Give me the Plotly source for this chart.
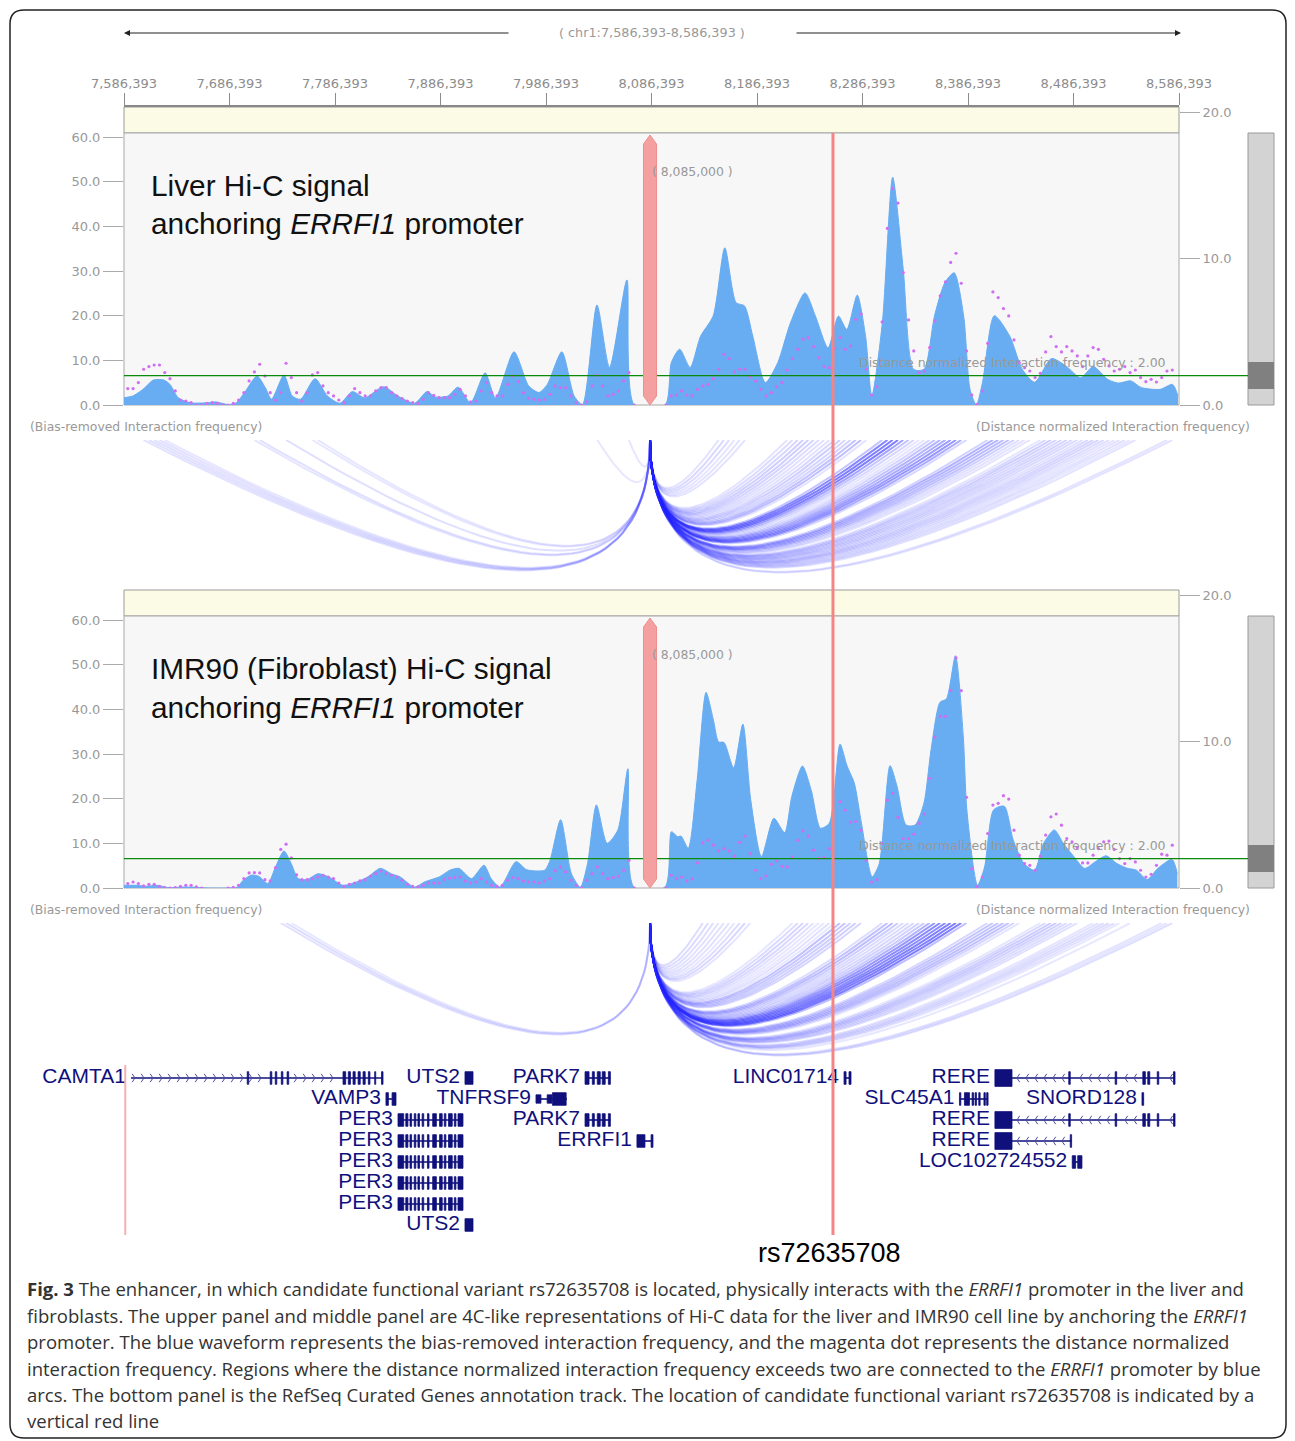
import numpy as np
import plotly.graph_objects as go

W, H = 1295, 1441
OFF = 8  # page body margin applied by the browser
def X(px): return (px - OFF) / W
def Y(py): return 1 - (py - OFF) / H

# ---------------- data ----------------
REGION = "chr1:7,586,393-8,586,393"
START, END = 7586393, 8586393
ANCHOR = 8085000
SNP_POS = 8258400
SNP_NAME = "rs72635708"
DN_THRESHOLD = 2.0

genome_ticks = [7586393, 7686393, 7786393, 7886393, 7986393, 8086393,
                8186393, 8286393, 8386393, 8486393, 8586393]
left_ticks = [0, 10, 20, 30, 40, 50, 60]
right_ticks = [0, 10, 20]

# 5 kb bins used for the distance-normalized interaction frequency
dn_bins = list(range(7585000, 8070001, 5000)) + list(range(8100000, 8580001, 5000))

# Liver: bias-removed interaction frequency (waveform)
liver_wave_pos = [7585000, 7594600, 7604400, 7614300, 7624100, 7630000, 7637900, 7649600, 7665400, 7673200,
                  7685000, 7692800, 7700700, 7712500, 7720300, 7726300, 7738000, 7745900, 7753800, 7767500,
                  7779300, 7791100, 7802900, 7814600, 7832400, 7846100, 7861900, 7873600, 7881500, 7893300,
                  7903100, 7914900, 7928700, 7938500, 7956100, 7969900, 7979800, 7987600, 8001400, 8013100,
                  8021000, 8034700, 8046600, 8063100, 8070100,
                  8099300, 8105200, 8113100, 8123000, 8132900, 8144800, 8155900, 8166600, 8174500, 8182400,
                  8194300, 8206100, 8218100, 8231900, 8241800, 8253700, 8263600, 8271500, 8281400, 8289300,
                  8295200, 8305200, 8315000, 8325000, 8334800, 8344700, 8354600, 8364500, 8373300, 8382300,
                  8388300, 8394300, 8400100, 8411300, 8426000, 8437800, 8449700, 8465500, 8479400, 8493200,
                  8505100, 8519000, 8528900, 8540700, 8550700, 8568500, 8580300, 8585400]
liver_wave_val = [1.6, 2.0, 3.5, 5.6, 5.6, 4.6, 1.6, 0.5, 0.5, 0.7,
                  0.1, 0.5, 2.8, 6.5, 3.9, 1.3, 6.7, 2.0, 1.3, 5.9,
                  2.0, 0.4, 3.0, 1.6, 4.1, 2.0, 0.4, 3.0, 1.8, 2.0,
                  4.0, 0.5, 7.2, 1.6, 11.9, 4.3, 2.8, 4.6, 11.9, 2.0,
                  0.1, 22.4, 8.4, 28.0, 0.0,
                  0.0, 9.5, 12.5, 8.4, 15.4, 19.9, 35.2, 22.9, 22.2, 15.4,
                  5.0, 9.5, 18.4, 25.1, 19.9, 12.8, 19.9, 16.9, 24.6, 15.4,
                  2.0, 18.4, 51.0, 30.4, 8.0, 8.0, 19.9, 27.4, 29.6, 19.9,
                  3.5, 0.0, 5.0, 20.0, 15.4, 8.0, 5.1, 10.4, 8.7, 6.1,
                  8.6, 5.7, 4.9, 5.4, 3.9, 3.5, 4.6, 2.0]

# Liver: distance normalized interaction frequency (dots), one per bin
liver_dn_val = [0.00, 1.12, 1.12, 1.53, 2.44, 2.62, 2.73, 2.73, 2.21, 1.80,
                0.96, 0.34, 0.27, 0.16, 0.00, 0.00, 0.11, 0.16, 0.11, 0.00,
                0.00, 0.11, 0.34, 0.84, 1.64, 2.26, 2.78, 1.98, 0.84, 0.34,
                0.84, 2.85, 1.87, 0.84, 0.27, 0.84, 2.05, 2.21, 1.30, 0.84,
                0.62, 0.34, 0.16, 0.62, 1.12, 0.84, 0.62, 0.62, 0.96, 1.18,
                1.18, 0.84, 0.62, 0.43, 0.27, 0.16, 0.11, 0.39, 0.84, 0.66,
                0.50, 0.50, 0.50, 0.73, 1.07, 0.62, 0.21, 0.27, 0.96, 1.53,
                0.84, 0.62, 0.62, 1.41, 1.98, 1.59, 0.84, 0.46, 0.39, 0.34,
                0.39, 0.73, 1.30, 1.18, 1.18, 0.62, 0.16, 0.00, 0.21, 1.30,
                2.03, 1.30, 0.62, 0.73, 0.96, 1.64, 2.21, 0.00,
                0.00, 0.62, 0.68, 0.96, 0.68, 0.62, 1.07, 1.30, 1.41, 1.80,
                2.44, 3.46, 3.17, 2.26, 2.44, 2.44, 1.94, 1.64, 1.07, 0.62,
                0.84, 1.25, 1.53, 2.39, 3.17, 3.80, 4.49, 4.60, 3.99, 3.23,
                2.62, 2.55, 3.85, 4.60, 3.80, 4.03, 5.85, 6.20, 2.44, 0.68,
                1.25, 5.67, 12.05, 14.78, 13.78, 9.04, 5.81, 3.69, 2.21, 2.32,
                3.92, 5.74, 7.45, 8.41, 9.73, 10.36, 8.31, 3.69, 0.68, 0.05,
                0.96, 4.21, 7.72, 7.33, 6.58, 6.08, 4.44, 2.89, 2.55, 2.32,
                1.87, 2.16, 3.62, 4.67, 3.99, 3.62, 3.99, 3.69, 3.35, 2.62,
                3.35, 3.92, 3.80, 3.12, 2.67, 2.32, 2.44, 2.62, 2.21, 2.39,
                1.87, 1.59, 1.75, 1.57, 1.87, 2.32, 2.39]

# IMR90: bias-removed interaction frequency (waveform)
imr90_wave_pos = [7585600, 7597500, 7607600, 7617800, 7628000, 7641500, 7651700, 7665200, 7685500, 7694000,
                  7699100, 7707500, 7714300, 7722800, 7729500, 7738000, 7744800, 7751500, 7760000, 7770200,
                  7780300, 7793900, 7807400, 7817600, 7829400, 7839600, 7848000, 7861600, 7871700, 7885300,
                  7895400, 7903900, 7915700, 7927600, 7934400, 7942800, 7958000, 7968200, 7985100, 7990200,
                  8000300, 8010500, 8019000, 8025700, 8034200, 8044300, 8054500, 8064000, 8069700,
                  8099200, 8105300, 8111100, 8114500, 8121200, 8129700, 8138100, 8144900, 8150000, 8155100,
                  8164200, 8173000, 8180400, 8190600, 8202400, 8212600, 8219400, 8229500, 8238000, 8246500,
                  8254900, 8265100, 8271800, 8278600, 8285400, 8295500, 8302300, 8312500, 8319200, 8327700,
                  8336200, 8344600, 8351400, 8359900, 8365900, 8374500, 8381900, 8385300, 8395400, 8402100,
                  8410700, 8420800, 8429200, 8439400, 8449500, 8458000, 8468200, 8476700, 8486800, 8497000,
                  8507100, 8517300, 8527400, 8537600, 8546000, 8556200, 8566400, 8579800, 8584800]
imr90_wave_val = [0.6, 0.6, 0.4, 0.6, 0.1, 0.2, 0.2, 0.0, 0.0, 0.2,
                  1.7, 2.9, 2.6, 1.0, 4.4, 8.3, 5.5, 2.1, 1.9, 3.2,
                  2.5, 0.6, 1.4, 2.5, 4.4, 3.2, 2.5, 0.2, 1.4, 2.5,
                  4.0, 4.4, 2.1, 5.1, 2.1, 0.2, 5.9, 4.1, 4.0, 6.2,
                  15.3, 3.2, 0.2, 5.4, 18.6, 10.0, 13.0, 26.7, 0.2,
                  0.2, 12.6, 11.5, 11.6, 8.9, 24.3, 43.8, 37.8, 32.7, 32.6,
                  26.9, 36.7, 19.8, 7.0, 15.6, 12.4, 20.5, 27.3, 21.7, 13.4,
                  14.5, 32.2, 27.3, 23.5, 14.5, 2.5, 5.5, 27.4, 22.7, 14.1,
                  14.1, 19.0, 31.0, 41.6, 42.3, 52.0, 34.0, 17.5, 0.6, 4.7,
                  17.5, 18.3, 10.8, 5.5, 4.0, 10.0, 13.0, 10.0, 7.0, 4.4,
                  5.9, 7.2, 5.5, 4.4, 4.0, 1.9, 4.4, 6.4, 3.2]

# IMR90: distance normalized interaction frequency (dots)
imr90_dn_val = [0.00, 0.30, 0.41, 0.30, 0.15, 0.25, 0.25, 0.11, 0.02, 0.00,
                0.02, 0.11, 0.18, 0.18, 0.07, 0.00, None, None, None, None,
                0.00, 0.05, 0.18, 0.64, 1.03, 1.05, 1.03, 0.57, 0.48, 1.39,
                2.63, 2.99, 2.05, 0.90, 0.57, 0.57, 0.64, 0.75, 0.87, 0.75,
                0.64, 0.34, 0.11, 0.25, 0.34, 0.48, 0.57, 0.80, 0.98, 1.16,
                0.98, 0.87, 0.75, 0.53, 0.25, 0.11, 0.07, 0.18, 0.34, 0.34,
                0.34, 0.57, 0.68, 0.71, 0.75, 0.48, 0.34, 0.41, 0.64, 0.41,
                0.18, 0.11, 0.18, 0.53, 0.71, 0.64, 0.48, 0.41, 0.41, 0.34,
                0.48, 0.64, 1.20, 1.44, 1.10, 0.53, 0.18, 0.00, 0.53, 0.98,
                1.44, 0.98, 0.64, 0.71, 0.80, 1.21, 1.89, 0.00,
                0.00, 0.87, 0.64, 0.75, 0.48, 0.64, 1.71, 3.08, 3.26, 2.92,
                2.53, 2.69, 2.53, 2.17, 3.11, 3.54, 2.35, 1.21, 0.64, 0.82,
                1.62, 1.85, 1.48, 1.44, 2.12, 3.26, 3.90, 3.54, 2.58, 2.01,
                2.08, 2.69, 2.01, 5.89, 5.32, 4.50, 4.54, 3.95, 1.89, 0.41,
                0.57, 3.04, 6.00, 6.46, 4.82, 3.38, 3.38, 3.68, 4.41, 5.05,
                7.49, 10.30, 11.71, 11.71, 13.49, 15.71, 13.47, 6.19, 1.32, 0.11,
                0.75, 3.72, 5.66, 5.78, 6.30, 6.07, 3.95, 2.24, 1.67, 1.55,
                1.21, 2.17, 3.61, 4.86, 5.05, 4.29, 3.38, 3.15, 2.76, 1.71,
                1.71, 2.24, 2.69, 3.15, 3.20, 2.63, 2.01, 1.67, 2.01, 1.78,
                1.21, 0.75, 0.94, 1.55, 2.31, 2.24, 2.92]

# RefSeq curated genes
gene_names = ["CAMTA1", "UTS2", "PARK7", "LINC01714", "RERE",
              "VAMP3", "TNFRSF9", "SLC45A1", "SNORD128",
              "PER3", "PARK7", "RERE",
              "PER3", "ERRFI1", "RERE",
              "PER3", "LOC102724552",
              "PER3", "PER3", "UTS2"]
gene_rows = [0, 0, 0, 0, 0, 1, 1, 1, 1, 2, 2, 2, 3, 3, 3, 4, 4, 5, 6, 7]
gene_strands = ["+", "-", "+", "+", "-", "+", "-", "+", "+", "+", "+", "-",
                "+", "-", "-", "+", "+", "+", "+", "-"]
gene_starts = [7593000, 7909600, 8023400, 8268900, 8411900,
               7834700, 7976900, 8378300, 8551300,
               7846100, 8023400, 8411900,
               7846100, 8072600, 8411900,
               7846100, 8485200,
               7846100, 7846100, 7909600]
gene_ends = [7831900, 7917200, 8047400, 8275500, 8582600,
             7844200, 8006300, 8405400, 8552900,
             7907700, 8047400, 8582600,
             7907700, 8087800, 8484600,
             7907700, 8494400,
             7907700, 7907700, 7917200]
camta1_exons = [(7703200, 7704600), (7725000, 7726500), (7729800, 7731200), (7735500, 7737000),
                (7741000, 7742500), (7794000, 7796500), (7799000, 7801000), (7803500, 7805500),
                (7808300, 7810300), (7813000, 7815000), (7818000, 7819500), (7824000, 7825000),
                (7830500, 7831900)]
per3_exons = [(7846100, 7851500), (7853500, 7855500), (7857500, 7859000), (7861500, 7863000),
              (7865000, 7866500), (7869000, 7870500), (7874000, 7875500), (7879000, 7882500),
              (7885500, 7888000), (7890000, 7891500), (7894000, 7897500), (7899500, 7901000),
              (7903000, 7907700)]
park7_exons = [(8023400, 8027200), (8030300, 8032200), (8035000, 8037800), (8039700, 8042500),
               (8045500, 8047400)]
rere_exons = [(8411900, 8428100), (8481900, 8483300), (8525900, 8527300), (8552100, 8554500),
              (8556800, 8558700), (8565800, 8567200), (8581200, 8582600)]
uts2_exons = [(7909600, 7917200)]
gene_exons = [camta1_exons, uts2_exons, park7_exons,
              [(8268900, 8270800), (8273600, 8275500)], rere_exons,
              [(7834700, 7837000), (7840500, 7844200)],
              [(7976900, 7981600), (7987500, 7992000), (7992500, 8005500)],
              [(8378300, 8379600), (8383000, 8387800), (8390300, 8391600), (8393100, 8394400),
               (8396600, 8397900), (8401500, 8402800), (8404100, 8405400)],
              [(8551300, 8552900)],
              per3_exons, park7_exons, rere_exons,
              per3_exons, [(8072600, 8080200), (8086000, 8087800)],
              [(8411900, 8428100), (8483300, 8484600)],
              per3_exons, [(8485200, 8488400), (8490400, 8494400)],
              per3_exons, per3_exons, uts2_exons]

caption_lines = [
    "<b>Fig. 3</b> The enhancer, in which candidate functional variant rs72635708 is located, physically interacts with the <i>ERRFI1</i> promoter in the liver and",
    "fibroblasts. The upper panel and middle panel are 4C-like representations of Hi-C data for the liver and IMR90 cell line by anchoring the <i>ERRFI1</i>",
    "promoter. The blue waveform represents the bias-removed interaction frequency, and the magenta dot represents the distance normalized",
    "interaction frequency. Regions where the distance normalized interaction frequency exceeds two are connected to the <i>ERRFI1</i> promoter by blue",
    "arcs. The bottom panel is the RefSeq Curated Genes annotation track. The location of candidate functional variant rs72635708 is indicated by a",
    "vertical red line",
]

# ---------------- style / layout constants ----------------
PX_L, PX_R = 124, 1179
XD = [X(PX_L), X(PX_R)]
px_per_bp = (PX_R - PX_L) / (END - START)
GRAY = "#999999"
TICKGRAY = "#8c8c8c"
NAVY = "#10107c"
BLUE_FILL = "#68acf2"
DOT = "#cf6df3"
AX_FONT = "DejaVu Sans"
SANS = "Liberation Sans, Arial, Helvetica"
LPX = 4.4667   # px per left unit
RPX = 14.65    # px per right unit
ARC_H = 140

panels = [
    dict(title="Liver Hi-C signal", wave_pos=liver_wave_pos, wave_val=liver_wave_val, dn=liver_dn_val,
         strip_top=107, plot_top=133, base=405, arc_top=440,
         xa="x", ya="y", ya2="y2", xarc="x3", yarc="y5"),
    dict(title="IMR90 (Fibroblast) Hi-C signal", wave_pos=imr90_wave_pos, wave_val=imr90_wave_val,
         dn=imr90_dn_val, strip_top=590, plot_top=616, base=888, arc_top=923,
         xa="x2", ya="y3", ya2="y4", xarc="x4", yarc="y6"),
]

fig = go.Figure()
shapes = []
annotations = []

for p in panels:
    # waveform
    fig.add_trace(go.Scatter(x=p["wave_pos"], y=p["wave_val"], xaxis=p["xa"], yaxis=p["ya"],
                             mode="lines", line=dict(color=BLUE_FILL, width=1, shape="spline", smoothing=0.7),
                             fill="tozeroy", fillcolor=BLUE_FILL, hoverinfo="skip", showlegend=False))
    # dots
    fig.add_trace(go.Scatter(x=dn_bins, y=p["dn"], xaxis=p["xa"], yaxis=p["ya2"], mode="markers",
                             marker=dict(size=3.2, color=DOT), hoverinfo="skip", showlegend=False))
    # arcs for bins above threshold
    t = np.linspace(0, 1, 48)
    for b, v in zip(dn_bins, p["dn"]):
        if v is None or v <= DN_THRESHOLD:
            continue
        w = b - ANCHOR
        depth = 5.8 * np.sqrt(abs(w) * px_per_bp)
        xs = ANCHOR + t ** 2 * w
        ys = -2 * t * (1 - t) * 2 * depth
        alpha = min(0.6, 0.045 * v + 0.02)
        fig.add_trace(go.Scatter(x=xs, y=ys, xaxis=p["xarc"], yaxis=p["yarc"], mode="lines",
                                 line=dict(color=f"rgba(40,40,255,{alpha:.3f})", width=2),
                                 hoverinfo="skip", showlegend=False))

    st, pt, bs = p["strip_top"], p["plot_top"], p["base"]
    # backgrounds
    shapes.append(dict(type="rect", xref="paper", yref="paper", x0=X(PX_L), x1=X(PX_R), y0=Y(pt), y1=Y(st),
                       fillcolor="#fcfce6", line=dict(color="#9a9a9a", width=1), layer="below"))
    shapes.append(dict(type="rect", xref="paper", yref="paper", x0=X(PX_L), x1=X(PX_R), y0=Y(bs), y1=Y(pt),
                       fillcolor="#f7f7f7", line=dict(color="#a8a8a8", width=1), layer="below"))
    # scrollbar
    shapes.append(dict(type="rect", xref="paper", yref="paper", x0=X(1248), x1=X(1274), y0=Y(bs), y1=Y(pt),
                       fillcolor="#d3d3d3", line=dict(color="#9a9a9a", width=1)))
    shapes.append(dict(type="rect", xref="paper", yref="paper", x0=X(1248), x1=X(1274), y0=Y(bs - 16), y1=Y(bs - 43),
                       fillcolor="#808080", line=dict(width=0)))
    # threshold line
    shapes.append(dict(type="line", xref="paper", yref=p["ya2"], x0=X(PX_L), x1=X(1248),
                       y0=DN_THRESHOLD, y1=DN_THRESHOLD, line=dict(color="#0a8a0a", width=1.3)))
    # anchor marker
    hw = 6.5 / px_per_bp
    yt, yb = pt + 2, bs
    path = (f"M {ANCHOR},{Y(yb)} L {ANCHOR - hw},{Y(yb - 9)} L {ANCHOR - hw},{Y(yt + 9)} "
            f"L {ANCHOR},{Y(yt)} L {ANCHOR + hw},{Y(yt + 9)} L {ANCHOR + hw},{Y(yb - 9)} Z")
    shapes.append(dict(type="path", xref="x", yref="paper", path=path, fillcolor="#f5a0a0",
                       line=dict(color="#ee8f8f", width=1)))
    annotations.append(dict(xref="paper", yref="paper", x=X(650), y=Y(pt + 39), text=f"( {ANCHOR:,} )",
                            showarrow=False, xanchor="left", yanchor="middle",
                            font=dict(family=AX_FONT, size=12.4, color=GRAY)))
    # panel titles
    annotations.append(dict(xref="paper", yref="paper", x=X(149), y=Y(pt + 52), text=p["title"],
                            showarrow=False, xanchor="left", yanchor="middle",
                            font=dict(family=SANS, size=29.8, color="#111111")))
    annotations.append(dict(xref="paper", yref="paper", x=X(149), y=Y(pt + 91),
                            text="anchoring <i>ERRFI1</i> promoter",
                            showarrow=False, xanchor="left", yanchor="middle",
                            font=dict(family=SANS, size=29.8, color="#111111")))
    annotations.append(dict(xref="paper", yref="paper", x=X(1168), y=Y(bs - 43),
                            text=f"Distance normalized Interaction frequency : {DN_THRESHOLD:.2f}",
                            showarrow=False, xanchor="right", yanchor="middle",
                            font=dict(family=AX_FONT, size=12.5, color=GRAY)))
    annotations.append(dict(xref="paper", yref="paper", x=X(28), y=Y(bs + 21),
                            text="(Bias-removed Interaction frequency)",
                            showarrow=False, xanchor="left", yanchor="middle",
                            font=dict(family=AX_FONT, size=12.4, color=GRAY)))
    annotations.append(dict(xref="paper", yref="paper", x=X(1252), y=Y(bs + 21),
                            text="(Distance normalized Interaction frequency)",
                            showarrow=False, xanchor="right", yanchor="middle",
                            font=dict(family=AX_FONT, size=12.4, color=GRAY)))

# ---------------- genes ----------------
GENE_TOP, GENE_BOT = 1065, 1236
ROW0, ROWH = 1078, 21
line_x, line_y = [], []
chev = {"+": ([], []), "-": ([], [])}
for name, row, strand, s, e, exons in zip(gene_names, gene_rows, gene_strands, gene_starts, gene_ends, gene_exons):
    line_x += [s, e, None]
    line_y += [row, row, None]
    for (a, b) in exons:
        hh = 0.30
        if name == "RERE" and a == 8411900:
            hh = 0.40
        if name == "TNFRSF9" and b < 7992500:
            hh = 0.20
        shapes.append(dict(type="rect", xref="x5", yref="y7", x0=a, x1=b, y0=row - hh, y1=row + hh,
                           fillcolor=NAVY, line=dict(color=NAVY, width=0.8)))
    step = 9 / px_per_bp
    for c in np.arange(s + 4 / px_per_bp, e - 2 / px_per_bp, step):
        if any(a - 2500 <= c <= b + 2500 for (a, b) in exons):
            continue
        chev[strand][0].append(c)
        chev[strand][1].append(row)

fig.add_trace(go.Scatter(x=line_x, y=line_y, xaxis="x5", yaxis="y7", mode="lines",
                         line=dict(color=NAVY, width=1.6), hoverinfo="skip", showlegend=False))
for strand, sym in (("+", "y-right"), ("-", "y-left")):
    fig.add_trace(go.Scatter(x=chev[strand][0], y=chev[strand][1], xaxis="x5", yaxis="y7", mode="markers",
                             marker=dict(symbol=sym, size=7, color="#4a4aa0",
                                         line=dict(color="#4a4aa0", width=1)),
                             hoverinfo="skip", showlegend=False))
label_gap = 5 / px_per_bp
fig.add_trace(go.Scatter(x=[max(s, START) - label_gap for s in gene_starts], y=gene_rows,
                         xaxis="x5", yaxis="y7", cliponaxis=False,
                         mode="text", text=gene_names, textposition="middle left",
                         textfont=dict(family=SANS, size=21, color=NAVY),
                         hoverinfo="skip", showlegend=False))

# left window-edge highlight in gene track and SNP line
shapes.append(dict(type="line", xref="x5", yref="paper", x0=START + 1200, x1=START + 1200,
                   y0=Y(1235), y1=Y(1065), line=dict(color="#f5b0b0", width=2)))
shapes.append(dict(type="line", xref="x", yref="paper", x0=SNP_POS, x1=SNP_POS,
                   y0=Y(1235), y1=Y(133), line=dict(color="#f38585", width=3), layer="above"))
annotations.append(dict(xref="x", yref="paper", x=SNP_POS - 3000, y=Y(1253), text=SNP_NAME,
                        showarrow=False, xanchor="center", yanchor="middle",
                        font=dict(family=SANS, size=27, color="#000000")))

# header with arrows
annotations.append(dict(xref="paper", yref="paper", x=X(652), y=Y(33), text=f"( {REGION} )",
                        showarrow=False, xanchor="center", yanchor="middle",
                        font=dict(family=AX_FONT, size=12.8, color=GRAY)))
annotations.append(dict(xref="paper", yref="paper", x=X(124), y=Y(33), ax=386, ay=0, text="",
                        showarrow=True, arrowhead=2, arrowsize=1, arrowwidth=1.2, arrowcolor="#222222"))
annotations.append(dict(xref="paper", yref="paper", x=X(1181), y=Y(33), ax=-386, ay=0, text="",
                        showarrow=True, arrowhead=2, arrowsize=1, arrowwidth=1.2, arrowcolor="#222222"))

# caption
cap_y = [1288, 1315, 1341, 1368, 1394, 1420]
for txt, cy in zip(caption_lines, cap_y):
    annotations.append(dict(xref="paper", yref="paper", x=X(25), y=Y(cy), text=txt, showarrow=False,
                            xanchor="left", yanchor="middle",
                            font=dict(family="Open Sans", size=18.5, color="#333333")))

# outer frame
r = 14
L_, R_, T_, B_ = 10, 1286, 10, 1438
frame = (f"M {X(L_)},{Y(T_ + r)} Q {X(L_)},{Y(T_)} {X(L_ + r)},{Y(T_)} L {X(R_ - r)},{Y(T_)} "
         f"Q {X(R_)},{Y(T_)} {X(R_)},{Y(T_ + r)} L {X(R_)},{Y(B_ - r)} Q {X(R_)},{Y(B_)} {X(R_ - r)},{Y(B_)} "
         f"L {X(L_ + r)},{Y(B_)} Q {X(L_)},{Y(B_)} {X(L_)},{Y(B_ - r)} Z")
shapes.append(dict(type="path", xref="paper", yref="paper", path=frame, line=dict(color="#222222", width=1.5)))

# ---------------- axes ----------------
common_x = dict(domain=XD, range=[START, END], showgrid=False, zeroline=False, fixedrange=True)
hidden_x = dict(common_x, visible=False)

def left_axis(p, anchor):
    return dict(domain=[Y(p["base"]), Y(p["strip_top"])], range=[0, (p["base"] - p["strip_top"]) / LPX],
                tickvals=left_ticks, ticktext=[f"{v:.1f}" for v in left_ticks], ticks="outside",
                ticklen=20, tickcolor="#aaaaaa", tickfont=dict(family=AX_FONT, size=13, color=GRAY),
                showgrid=False, zeroline=False, showline=False, anchor=anchor, fixedrange=True)

def right_axis(p, over, anchor):
    return dict(overlaying=over, side="right", anchor=anchor,
                range=[0, (p["base"] - p["strip_top"]) / RPX],
                tickvals=right_ticks, ticktext=[f"{v:.1f}" for v in right_ticks], ticks="outside",
                ticklen=20, tickcolor="#aaaaaa", tickfont=dict(family=AX_FONT, size=13, color=GRAY),
                showgrid=False, zeroline=False, showline=False, fixedrange=True)

def arc_axis(p):
    return dict(domain=[Y(p["arc_top"] + ARC_H), Y(p["arc_top"])], range=[-ARC_H, 0], visible=False,
                fixedrange=True)

fig.update_layout(
    width=W, height=H, margin=dict(l=0, r=0, t=0, b=0, pad=0, autoexpand=False),
    paper_bgcolor="white", plot_bgcolor="rgba(0,0,0,0)", showlegend=False,
    xaxis=dict(common_x, anchor="y", side="top", tickvals=genome_ticks,
               ticktext=[f"{v:,}" for v in genome_ticks], ticks="outside", ticklen=12,
               tickcolor=TICKGRAY, tickfont=dict(family=AX_FONT, size=13, color=TICKGRAY),
               showline=True, linecolor="#888888", linewidth=2),
    yaxis=left_axis(panels[0], "x"),
    yaxis2=right_axis(panels[0], "y", "x"),
    xaxis2=dict(hidden_x, anchor="y3"),
    yaxis3=left_axis(panels[1], "x2"),
    yaxis4=right_axis(panels[1], "y3", "x2"),
    xaxis3=dict(hidden_x, anchor="y5"),
    yaxis5=arc_axis(panels[0]),
    xaxis4=dict(hidden_x, anchor="y6"),
    yaxis6=arc_axis(panels[1]),
    xaxis5=dict(hidden_x, anchor="y7"),
    yaxis7=dict(domain=[Y(GENE_BOT), Y(GENE_TOP)],
                range=[(GENE_BOT - ROW0) / ROWH, (GENE_TOP - ROW0) / ROWH],
                visible=False, fixedrange=True),
    shapes=shapes, annotations=annotations,
)

fig.write_html("out.html", config={"displayModeBar": False})
